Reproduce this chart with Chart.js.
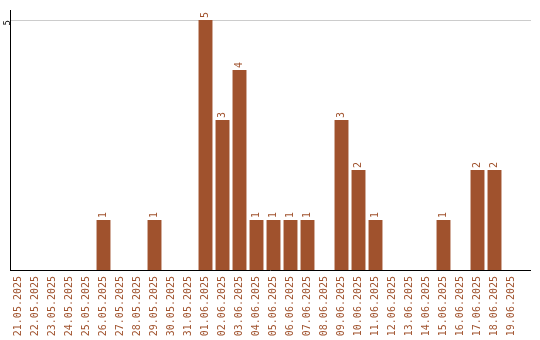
<!DOCTYPE html>
<html>
<head>
<meta charset="utf-8">
<script src="https://cdn.jsdelivr.net/npm/chart.js@4/dist/chart.umd.min.js"></script>
<style>
  html, body { margin: 0; padding: 0; background: #fff; }
  #wrap { width: 540px; height: 340px; }
</style>
</head>
<body>
<div id="wrap"><canvas id="chart"></canvas></div>
<script>
const days = [
    '21.05.2025', '22.05.2025', '23.05.2025', '24.05.2025', '25.05.2025',
    '26.05.2025', '27.05.2025', '28.05.2025', '29.05.2025', '30.05.2025',
    '31.05.2025', '01.06.2025', '02.06.2025', '03.06.2025', '04.06.2025',
    '05.06.2025', '06.06.2025', '07.06.2025', '08.06.2025', '09.06.2025',
    '10.06.2025', '11.06.2025', '12.06.2025', '13.06.2025', '14.06.2025',
    '15.06.2025', '16.06.2025', '17.06.2025', '18.06.2025', '19.06.2025'
];
const counts = [
    0, 0, 0, 0, 0,
    1, 0, 0, 1, 0,
    0, 5, 3, 4, 1,
    1, 1, 1, 0, 3,
    2, 1, 0, 0, 0,
    1, 0, 2, 2, 0
];
const yTicks = [5];

const brown = '#a0522d';
const labelFont = '10px "DejaVu Sans Mono", monospace';

// value written sideways above every bar
const barValues = {
    id: 'barValues',
    afterDatasetsDraw: function (chart) {
        let ctx = chart.ctx,
            meta = chart.getDatasetMeta(0);

        ctx.save();
        ctx.font = labelFont;
        ctx.fillStyle = brown;
        ctx.textAlign = 'left';
        ctx.textBaseline = 'middle';
        meta.data.forEach(function (bar, i) {
            if (!counts[i]) {
                return;
            }
            ctx.save();
            ctx.translate(bar.x, bar.y - 2);
            ctx.rotate(-Math.PI / 2);
            ctx.fillText(String(counts[i]), 0, 0);
            ctx.restore();
        });
        ctx.restore();
    }
};

// baseline and grid line run a little past the last day
const longLines = {
    id: 'longLines',
    beforeDatasetsDraw: function (chart) {
        let ctx = chart.ctx,
            area = chart.chartArea,
            yScale = chart.scales.y;

        ctx.save();
        ctx.strokeStyle = '#cccccc';
        ctx.lineWidth = 1;
        yTicks.forEach(function (v) {
            let y = Math.round(yScale.getPixelForValue(v)) + 0.5;
            ctx.beginPath();
            ctx.moveTo(area.right, y);
            ctx.lineTo(531, y);
            ctx.stroke();
        });
        ctx.restore();
    },
    afterDraw: function (chart) {
        let ctx = chart.ctx,
            area = chart.chartArea;

        ctx.save();
        ctx.strokeStyle = '#000';
        ctx.lineWidth = 1;
        ctx.beginPath();
        ctx.moveTo(area.left, Math.round(area.bottom) + 0.5);
        ctx.lineTo(531, Math.round(area.bottom) + 0.5);
        ctx.stroke();
        ctx.restore();
    }
};

new Chart(document.getElementById('chart'), {
    type: 'bar',
    data: {
        labels: days,
        datasets: [{
            data: counts,
            backgroundColor: brown,
            borderWidth: 0,
            barPercentage: 0.82,
            categoryPercentage: 1
        }]
    },
    options: {
        responsive: true,
        maintainAspectRatio: false,
        animation: false,
        layout: {
            padding: { top: 10, right: 20, left: 0, bottom: 0 }
        },
        plugins: {
            legend: { display: false },
            tooltip: { enabled: false }
        },
        scales: {
            x: {
                afterFit: function (axis) {
                    axis.height = 70;
                },
                grid: { display: false, drawTicks: false },
                border: { display: false },
                ticks: {
                    color: brown,
                    font: { family: '"DejaVu Sans Mono", monospace', size: 10 },
                    minRotation: 90,
                    maxRotation: 90,
                    autoSkip: false,
                    padding: 6
                }
            },
            y: {
                min: 0,
                max: 5.2,
                afterBuildTicks: function (axis) {
                    axis.ticks = yTicks.map(function (v) { return { value: v }; });
                },
                afterFit: function (axis) {
                    axis.width = 10;
                },
                grid: { color: '#cccccc', drawTicks: false },
                border: { color: '#000', width: 1 },
                ticks: {
                    color: '#000',
                    font: { family: '"DejaVu Sans Mono", monospace', size: 9 },
                    minRotation: 90,
                    maxRotation: 90,
                    padding: 2
                }
            }
        }
    },
    plugins: [barValues, longLines]
});
</script>
</body>
</html>
